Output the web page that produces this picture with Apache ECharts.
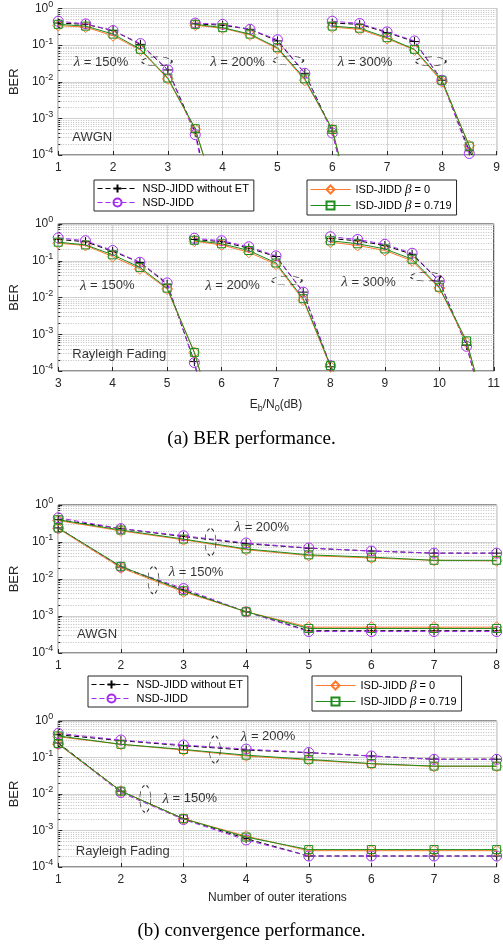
<!DOCTYPE html>
<html><head><meta charset="utf-8">
<script src="https://cdn.jsdelivr.net/npm/echarts@6/dist/echarts.min.js"></script>
<style>html,body{margin:0;padding:0;background:#fff}#c{width:503px;height:945px}</style>
</head><body><div id="c"></div>
<script>
// ---------- DATA ----------
const methodNames = ['NSD-JIDD without ET', 'NSD-JIDD', 'ISD-JIDD β = 0', 'ISD-JIDD β = 0.719'];

// Panel 1: BER vs Eb/N0, AWGN
const awgnX150 = [1, 1.5, 2, 2.5, 3, 3.5, 4];
const awgnX200 = [3.5, 4, 4.5, 5, 5.5, 6, 6.5];
const awgnX300 = [6, 6.5, 7, 7.5, 8, 8.5, 9];
const awgnNoET150 = [0.40, 0.37, 0.25, 0.105, 0.021, 4.2e-4, 1.5e-7];
const awgnNoET200 = [0.38, 0.35, 0.27, 0.13, 0.017, 4.5e-4, 4e-7];
const awgnNoET300 = [0.40, 0.37, 0.22, 0.125, 0.011, 1.3e-4, 8e-6];
const awgnNsd150 = [0.45, 0.38, 0.25, 0.11, 0.021, 3.6e-4, 1.3e-7];
const awgnNsd200 = [0.40, 0.37, 0.27, 0.14, 0.017, 4.0e-4, 4e-7];
const awgnNsd300 = [0.45, 0.39, 0.23, 0.13, 0.011, 1.1e-4, 1e-5];
const awgnIsd0_150 = [0.34, 0.31, 0.18, 0.073, 0.012, 5.0e-4, 2e-6];
const awgnIsd0_200 = [0.35, 0.29, 0.19, 0.080, 0.011, 5.0e-4, 6e-7];
const awgnIsd0_300 = [0.31, 0.27, 0.15, 0.074, 0.010, 1.8e-4, 3e-6];
const awgnIsd7_150 = [0.37, 0.33, 0.20, 0.077, 0.0126, 5.2e-4, 2e-6];
const awgnIsd7_200 = [0.37, 0.30, 0.20, 0.085, 0.012, 5.0e-4, 6e-7];
const awgnIsd7_300 = [0.33, 0.29, 0.16, 0.077, 0.011, 1.75e-4, 3e-6];

// Panel 2: BER vs Eb/N0, Rayleigh fading
const rayX150 = [3, 3.5, 4, 4.5, 5, 5.5, 6];
const rayX200 = [5.5, 6, 6.5, 7, 7.5, 8, 8.5];
const rayX300 = [8, 8.5, 9, 9.5, 10, 10.5, 11];
const rayNoET150 = [0.38, 0.33, 0.18, 0.090, 0.023, 1.8e-4, 1e-7];
const rayNoET200 = [0.38, 0.33, 0.22, 0.13, 0.014, 1.3e-4, 5e-6];
const rayNoET300 = [0.40, 0.35, 0.26, 0.15, 0.028, 5.0e-4, 1e-6];
const rayNsd150 = [0.42, 0.35, 0.19, 0.091, 0.025, 1.7e-4, 1e-7];
const rayNsd200 = [0.41, 0.35, 0.24, 0.136, 0.014, 1.4e-4, 5e-6];
const rayNsd300 = [0.45, 0.38, 0.28, 0.16, 0.028, 4.7e-4, 1e-6];
const rayIsd0_150 = [0.30, 0.26, 0.13, 0.060, 0.017, 3.2e-4, 1e-6];
const rayIsd0_200 = [0.34, 0.27, 0.17, 0.080, 0.0085, 1.3e-4, 5e-6];
const rayIsd0_300 = [0.32, 0.26, 0.19, 0.10, 0.018, 6.0e-4, 1.3e-6];
const rayIsd7_150 = [0.32, 0.27, 0.145, 0.066, 0.018, 3.2e-4, 1e-6];
const rayIsd7_200 = [0.36, 0.29, 0.19, 0.087, 0.0093, 1.4e-4, 5e-6];
const rayIsd7_300 = [0.35, 0.29, 0.21, 0.11, 0.019, 6.6e-4, 1.3e-6];

// Panel 3 & 4: BER vs outer iterations
const iters = [1, 2, 3, 4, 5, 6, 7, 8];
const cAwgnNoET200 = [0.40, 0.23, 0.14, 0.090, 0.068, 0.057, 0.050, 0.050];
const cAwgnNsd200 = [0.45, 0.23, 0.147, 0.094, 0.069, 0.057, 0.050, 0.050];
const cAwgnIsd0_200 = [0.38, 0.20, 0.115, 0.062, 0.043, 0.037, 0.032, 0.031];
const cAwgnIsd7_200 = [0.40, 0.21, 0.12, 0.065, 0.045, 0.039, 0.032, 0.032];
const cAwgnNoET150 = [0.24, 0.021, 0.0050, 0.0013, 4.0e-4, 4.0e-4, 4.0e-4, 4.0e-4];
const cAwgnNsd150 = [0.24, 0.021, 0.0055, 0.0013, 3.8e-4, 3.8e-4, 3.8e-4, 3.8e-4];
const cAwgnIsd0_150 = [0.23, 0.020, 0.0045, 0.0013, 5.0e-4, 5.0e-4, 5.0e-4, 5.0e-4];
const cAwgnIsd7_150 = [0.24, 0.022, 0.0048, 0.0013, 4.6e-4, 4.6e-4, 4.6e-4, 4.6e-4];

const cRayNoET200 = [0.42, 0.29, 0.21, 0.16, 0.135, 0.11, 0.090, 0.090];
const cRayNsd200 = [0.46, 0.30, 0.22, 0.17, 0.137, 0.11, 0.089, 0.089];
const cRayIsd0_200 = [0.37, 0.23, 0.16, 0.11, 0.085, 0.067, 0.057, 0.057];
const cRayIsd7_200 = [0.39, 0.23, 0.166, 0.116, 0.089, 0.068, 0.058, 0.058];
const cRayNoET150 = [0.25, 0.012, 0.0021, 6.0e-4, 2.0e-4, 2.0e-4, 2.0e-4, 2.0e-4];
const cRayNsd150 = [0.24, 0.011, 0.0020, 5.5e-4, 2.0e-4, 2.0e-4, 2.0e-4, 2.0e-4];
const cRayIsd0_150 = [0.23, 0.012, 0.0021, 7.0e-4, 2.8e-4, 2.8e-4, 2.8e-4, 2.8e-4];
const cRayIsd7_150 = [0.24, 0.012, 0.0021, 6.6e-4, 3.0e-4, 3.0e-4, 3.0e-4, 3.0e-4];

// Annotations: [panel, x, y, text]
const labelNotes = [
  [0, 1.78, 0.034, 'λ|150'], [0, 4.27, 0.034, 'λ|200'], [0, 6.6, 0.034, 'λ|300'],
  [0, 1.62, 3.1e-4, 'AWGN'],
  [1, 3.9, 0.021, 'λ|150'], [1, 6.2, 0.021, 'λ|200'], [1, 8.7, 0.026, 'λ|300'],
  [1, 4.12, 2.8e-4, 'Rayleigh Fading'],
  [2, 4.25, 0.25, 'λ|200'], [2, 3.2, 0.015, 'λ|150'], [2, 1.62, 3.1e-4, 'AWGN'],
  [3, 4.35, 0.37, 'λ|200'], [3, 3.1, 0.0074, 'λ|150'], [3, 2.03, 2.7e-4, 'Rayleigh Fading']
];
// Ellipses: [panel, x, y, width px, height px]
const ellipseNotes = [
  [0, 2.8, 0.036, 30, 9], [0, 5.2, 0.038, 30, 9], [0, 7.8, 0.036, 30, 9],
  [1, 7.2, 0.029, 30, 9], [1, 9.75, 0.037, 30, 9],
  [2, 3.43, 0.10, 11, 27], [2, 2.52, 0.0093, 11, 27],
  [3, 3.5, 0.166, 11, 27], [3, 2.39, 0.0074, 11, 27]
];

// ---------- STYLE ----------
const FONT = '"Liberation Sans", Arial, sans-serif';
const SERIF = '"Liberation Serif", "Times New Roman", serif';
const AX = '#262626';
const styles = [
  {color: '#000000', dash: [5, 3], symbol: 'path://M0,5L10,5M5,0L5,10', size: 9},
  {color: '#a52cf0', dash: [5, 3], symbol: 'circle', size: 10},
  {color: '#ff7a2e', dash: 'solid', symbol: 'diamond', size: 11},
  {color: '#1c8c1c', dash: 'solid', symbol: 'rect', size: 8}
];

const grids = [
  {left: 52, right: 3, top: 7, height: 148},
  {left: 52, right: 3, top: 224, height: 147},
  {left: 52, right: 3, top: 505, height: 148},
  {left: 52, right: 3, top: 721, height: 146}
];
const xRanges = [[1, 9], [3, 11], [1, 8], [1, 8]];

function mkSeries(m, gi, xs, ys) {
  const s = styles[m];
  return {
    type: 'line', name: methodNames[m], xAxisIndex: gi, yAxisIndex: gi,
    data: xs.map((x, i) => [x, ys[i]]), clip: true,
    symbol: s.symbol, symbolSize: s.size, showSymbol: true,
    lineStyle: {color: s.color, width: 1, type: s.dash},
    itemStyle: {color: 'rgba(0,0,0,0)', borderColor: s.color, borderWidth: 1},
    z: 2 + m, animation: false
  };
}

const series = [];
const p1 = [[awgnX150, [awgnNoET150, awgnNsd150, awgnIsd0_150, awgnIsd7_150]],
            [awgnX200, [awgnNoET200, awgnNsd200, awgnIsd0_200, awgnIsd7_200]],
            [awgnX300, [awgnNoET300, awgnNsd300, awgnIsd0_300, awgnIsd7_300]]];
const p2 = [[rayX150, [rayNoET150, rayNsd150, rayIsd0_150, rayIsd7_150]],
            [rayX200, [rayNoET200, rayNsd200, rayIsd0_200, rayIsd7_200]],
            [rayX300, [rayNoET300, rayNsd300, rayIsd0_300, rayIsd7_300]]];
const p3 = [[iters, [cAwgnNoET200, cAwgnNsd200, cAwgnIsd0_200, cAwgnIsd7_200]],
            [iters, [cAwgnNoET150, cAwgnNsd150, cAwgnIsd0_150, cAwgnIsd7_150]]];
const p4 = [[iters, [cRayNoET200, cRayNsd200, cRayIsd0_200, cRayIsd7_200]],
            [iters, [cRayNoET150, cRayNsd150, cRayIsd0_150, cRayIsd7_150]]];
[p1, p2, p3, p4].forEach((panel, gi) => {
  for (let m = 0; m < 4; m++) panel.forEach(([xs, arr]) => series.push(mkSeries(m, gi, xs, arr[m])));
});

// annotation text
[0, 1, 2, 3].forEach(gi => {
  const pts = labelNotes.filter(n => n[0] === gi);
  series.push({
    type: 'scatter', xAxisIndex: gi, yAxisIndex: gi, symbolSize: 0, silent: true, z: 10,
    data: pts.map(n => ({value: [n[1], n[2]], txt: n[3]})),
    label: {
      show: true, position: 'inside',
      formatter: p => {
        const t = p.data.txt;
        if (t.startsWith('λ|')) return '{l|λ}{t| = ' + t.split('|')[1] + '%}';
        return '{w|' + t + '}';
      },
      rich: {
        l: {fontFamily: SERIF, fontStyle: 'italic', fontSize: 15, color: '#000'},
        t: {fontFamily: FONT, fontSize: 13, color: '#000'},
        w: {fontFamily: FONT, fontSize: 13, color: '#000'}
      }
    }
  });
  const els = ellipseNotes.filter(n => n[0] === gi);
  series.push({
    type: 'scatter', xAxisIndex: gi, yAxisIndex: gi, silent: true, z: 9, symbol: 'circle',
    data: els.map(n => ({value: [n[1], n[2]], symbolSize: [n[3], n[4]]})),
    itemStyle: {color: 'rgba(0,0,0,0)', borderColor: '#000', borderWidth: 1, borderType: [4, 3]}
  });
});

const supFmt = v => {
  const e = Math.round(Math.log10(v));
  return '{b|10}{s|' + e + '}';
};

const xAxis = grids.map((g, i) => ({
  type: 'value', gridIndex: i, min: xRanges[i][0], max: xRanges[i][1], interval: 1,
  axisLine: {show: false},
  axisTick: {show: true, inside: true, length: 4, lineStyle: {color: AX}},
  axisLabel: {color: AX, fontFamily: FONT, fontSize: 12, margin: 7},
  splitLine: {show: true, lineStyle: {color: '#d6d6d6', width: 1}},
  name: i === 1 ? '{n|E}{s|b}{n|/N}{s|0}{n|(dB)}' : (i === 3 ? 'Number of outer iterations' : ''),
  nameLocation: 'middle', nameGap: 25,
  nameTextStyle: {color: AX, fontFamily: FONT, fontSize: 12,
    rich: {n: {fontFamily: FONT, fontSize: 12, color: AX}, s: {fontFamily: FONT, fontSize: 9, color: AX, padding: [8, 0, 0, 0]}}}
}));
const yAxis = grids.map((g, i) => ({
  type: 'log', gridIndex: i, logBase: 10, min: 1e-4, max: 1, interval: 1,
  axisLine: {show: false},
  axisTick: {show: true, inside: true, length: 4, lineStyle: {color: AX}},
  minorTick: {show: true, splitNumber: 9, length: 2, lineStyle: {color: AX}},
  axisLabel: {formatter: supFmt, margin: 5,
    rich: {b: {fontFamily: FONT, fontSize: 12, color: AX}, s: {fontFamily: FONT, fontSize: 9, color: AX, padding: [0, 0, 8, 0]}}},
  splitLine: {show: true, lineStyle: {color: '#cfcfcf', width: 1}},
  minorSplitLine: {show: true, lineStyle: {color: '#bdbdbd', width: 1, type: [1, 1.5]}},
  name: 'BER', nameLocation: 'middle', nameRotate: 90, nameGap: 30,
  nameTextStyle: {color: AX, fontFamily: FONT, fontSize: 13}
}));

function mkLegends(top) {
  return {
    orient: 'vertical', top: top, itemWidth: 40, itemHeight: 10, itemGap: 3,
    padding: [3, 5, 3, 3], borderColor: AX, borderWidth: 1, backgroundColor: '#fff',
    selectedMode: false,
    lineStyle: {width: 1},
    formatter: n => n.indexOf('β') >= 0 ? '{n|' + n.split('β')[0] + '}{i|β}{n|' + n.split('β')[1] + '}' : '{n|' + n + '}',
    textStyle: {fontFamily: FONT, fontSize: 11, color: '#000',
      rich: {n: {fontFamily: FONT, fontSize: 11, color: '#000'}, i: {fontFamily: SERIF, fontStyle: 'italic', fontSize: 13, color: '#000'}}}
  };
}
const legend = [
  Object.assign({}, mkLegends(180), {left: 94, data: [methodNames[0], methodNames[1]]}),
  Object.assign({}, mkLegends(180), {left: 307, data: [methodNames[2], methodNames[3]]}),
  Object.assign({}, mkLegends(676), {left: 88, data: [methodNames[0], methodNames[1]]}),
  Object.assign({}, mkLegends(676), {left: 312, data: [methodNames[2], methodNames[3]]})
];

const option = {
  animation: false,
  backgroundColor: '#fff',
  grid: grids.map(g => Object.assign({show: true, borderColor: AX, borderWidth: 1, backgroundColor: '#fff', z: 0}, g)),
  xAxis, yAxis, legend, series,
  graphic: [
    {type: 'text', left: 'center', top: 430, style: {text: '(a) BER performance.', font: '19px ' + SERIF, fill: '#000'}},
    {type: 'text', left: 'center', top: 922, style: {text: '(b) convergence performance.', font: '19px ' + SERIF, fill: '#000'}}
  ]
};
const chart = echarts.init(document.getElementById('c'), null, {renderer: 'canvas'});
chart.setOption(option);
</script></body></html>
